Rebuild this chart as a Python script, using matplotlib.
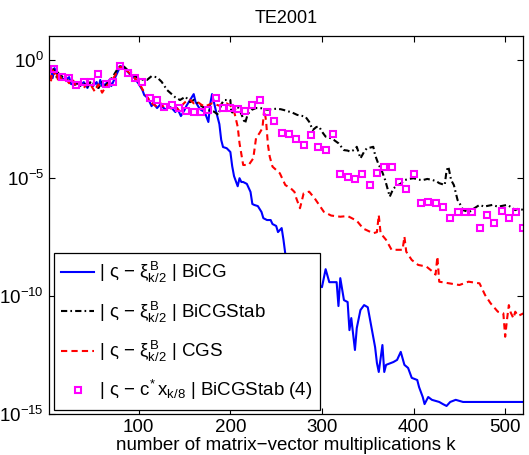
import matplotlib
matplotlib.use("Agg")
import matplotlib.pyplot as plt
import numpy as np
from matplotlib.ticker import NullLocator

# exponents (log10 of the error)
blue_k = [2, 4, 6, 8, 10, 12, 14, 16, 20, 24, 26, 30, 34, 36, 40, 44, 46, 50, 54, 56,
          58, 60, 64, 68, 70, 74, 78, 80, 84, 88, 90, 94, 96, 100, 104, 106, 110, 114,
          116, 120, 124, 126, 130, 132, 136, 140, 142, 146, 150, 152, 156, 160, 162,
          166, 168, 172, 176, 178, 180, 184, 188, 190, 192, 196, 198, 200, 202, 204,
          208, 210, 212, 214, 218, 222, 224, 226, 230, 234, 236, 240, 244, 246, 250,
          252, 256, 258, 260, 270, 282, 292, 300, 304, 308, 316, 318, 320, 324, 328,
          330, 332, 336, 338, 342, 346, 350, 354, 358, 360, 362, 366, 368, 370, 378,
          382, 386, 390, 394, 398, 404, 406, 410, 412, 416, 420, 428, 432, 436, 440,
          446, 454, 462, 484, 520]
blue_e = [-0.44, -0.27, -0.78, -0.36, -0.52, -0.69, -0.61, -0.78, -0.86, -0.74, -1.03,
          -1.07, -0.99, -1.12, -0.95, -1.20, -1.03, -1.12, -0.95, -1.20, -0.86, -1.12,
          -1.03, -0.86, -1.12, -0.78, -0.44, -0.27, -0.36, -0.52, -0.61, -0.69, -0.82,
          -1.03, -1.29, -1.50, -1.63, -1.97, -1.84, -2.05, -1.88, -2.01, -2.13, -1.96,
          -2.05, -2.22, -2.05, -2.39, -2.13, -1.96, -1.71, -1.46, -1.79, -2.05, -2.13,
          -2.22, -2.64, -1.88, -1.46, -2.13, -2.73, -3.40, -3.70, -3.75, -3.83, -3.91,
          -4.51, -4.93, -5.36, -5.02, -5.18, -5.18, -5.26, -5.60, -6.11, -6.15, -6.20,
          -6.45, -6.71, -6.79, -6.79, -6.96, -7.04, -7.30, -7.13, -7.63, -8.23, -8.57,
          -8.99, -9.42, -9.63, -8.87, -9.42, -9.42, -10.43, -9.25, -10.18, -10.26,
          -11.45, -10.94, -12.29, -11.36, -10.60, -10.39, -10.48, -11.32, -12.17,
          -12.84, -13.22, -12.08, -13.22, -12.92, -12.80, -12.71, -12.37, -12.92,
          -13.05, -13.47, -13.56, -13.86, -14.28, -14.58, -14.28, -14.40, -14.49,
          -14.58, -14.66, -14.49, -14.40, -14.49, -14.49, -14.49, -14.49]

black_k = [2, 4, 6, 8, 10, 12, 14, 16, 20, 24, 28, 32, 36, 40, 44, 48, 52, 56, 60, 64,
           68, 72, 76, 80, 84, 88, 92, 96, 100, 104, 109, 114, 120, 125, 131, 135, 140,
           145, 151, 156, 160, 166, 170, 175, 182, 187, 190, 193, 200, 201, 205, 208,
           212, 216, 219, 223, 228, 234, 240, 245, 250, 255, 260, 264, 268, 273, 278,
           282, 286, 290, 294, 297, 300, 304, 308, 313, 318, 324, 328, 331, 336, 338,
           342, 346, 349, 353, 356, 358, 362, 365, 369, 374, 378, 383, 386, 390, 395,
           400, 405, 410, 415, 421, 425, 428, 432, 434, 436, 438, 440, 441, 444, 448,
           452, 454, 458, 461, 466, 472, 477, 482, 486, 490, 493, 498, 502, 507, 511,
           515, 520]
black_e = [-0.3, -0.6, -0.35, -0.5, -0.75, -0.55, -0.8, -0.7, -0.85, -0.9, -1.05, -0.95,
           -1.1, -1.0, -1.15, -0.9, -1.05, -1.2, -0.95, -1.1, -0.9, -0.7, -0.45, -0.25,
           -0.3, -0.45, -0.55, -0.7, -0.8, -0.85, -0.86, -0.7, -0.75, -0.94, -1.29,
           -1.43, -1.6, -1.71, -1.57, -1.8, -1.71, -1.9, -2.0, -2.13, -2.2, -2.34, -1.9,
           -1.71, -1.71, -2.27, -2.1, -1.99, -2.3, -2.7, -2.3, -2.13, -2.05, -2.06,
           -2.12, -2.1, -2.08, -2.1, -2.15, -2.2, -2.25, -2.34, -2.38, -2.42, -2.63,
           -2.98, -2.85, -2.84, -3.05, -3.26, -3.3, -3.4, -3.54, -3.83, -3.85, -3.9,
           -3.8, -3.69, -4.18, -3.9, -3.75, -3.72, -3.69, -4.04, -4.46, -4.67, -5.1,
           -5.8, -5.45, -5.31, -5.25, -5.1, -5.05, -5.02, -5.08, -5.1, -5.05, -5.1,
           -5.15, -5.23, -5.28, -5.31, -4.7, -4.53, -4.9, -5.1, -5.31, -5.94, -6.2,
           -6.37, -6.42, -6.44, -6.3, -6.15, -6.22, -6.18, -6.15, -6.2, -6.22, -6.18,
           -6.15, -6.25, -6.37, -6.3, -6.37]

red_k = [2, 4, 6, 8, 10, 12, 14, 16, 20, 24, 28, 32, 36, 40, 44, 48, 52, 56, 60, 64,
         68, 72, 76, 80, 84, 88, 92, 96, 100, 104, 108, 112, 116, 120, 124, 128, 132,
         136, 140, 144, 148, 152, 156, 160, 164, 168, 172, 176, 180, 184, 188, 192,
         196, 200, 203, 205, 208, 210, 214, 220, 225, 228, 232, 235, 237, 239, 241,
         243, 246, 254, 260, 266, 270, 272, 276, 280, 286, 292, 302, 310, 320, 328,
         338, 345, 356, 360, 362, 364, 370, 376, 388, 390, 392, 398, 405, 414, 421,
         424, 426, 428, 439, 450, 460, 472, 478, 484, 492, 498, 500, 502, 504, 506,
         509, 511, 514, 520]
red_e = [-0.55, -0.95, -0.45, -0.6, -0.5, -0.9, -0.7, -0.85, -0.8, -1.0, -0.85, -1.15,
         -0.95, -1.2, -1.0, -1.1, -1.35, -1.05, -1.4, -1.15, -1.0, -0.8, -0.55, -0.3,
         -0.4, -0.5, -0.65, -0.8, -0.95, -1.25, -1.5, -1.75, -1.9, -2.0, -1.85, -2.05,
         -1.95, -2.1, -2.0, -2.15, -1.9, -1.75, -1.7, -1.85, -1.78, -1.9, -1.99, -1.92,
         -1.85, -1.9, -1.95, -1.88, -1.85, -1.95, -2.06, -2.34, -2.84, -3.54, -4.46,
         -4.46, -4.18, -3.33, -3.1, -2.9, -2.1, -2.6, -3.6, -4.11, -4.53, -4.81, -5.31,
         -5.45, -5.6, -5.87, -6.29, -5.66, -5.59, -5.87, -6.44, -6.6, -6.65, -6.62,
         -6.82, -7.15, -7.35, -7.3, -6.58, -7.35, -7.63, -8.05, -8.05, -7.49, -8.13,
         -8.48, -8.69, -8.76, -8.98, -9.1, -8.34, -9.4, -9.47, -9.54, -9.40, -9.47,
         -9.96, -10.31, -10.67, -10.74, -11.73, -11.0, -10.39, -10.7, -10.95, -10.67,
         -10.85, -10.74]

# BiCGStab(4) markers, one every 8 matrix-vector products
sq_k = np.arange(8, 521, 8)
sq_e = [-0.39, -0.72, -0.76, -1.07, -0.95, -0.95, -0.61, -1.03, -0.96, -0.27, -0.58,
        -0.79, -0.93, -1.63, -1.72, -1.99, -1.90, -2.03, -2.19, -2.20, -2.20, -2.13,
        -1.61, -2.04, -2.04, -2.09, -2.16, -1.92, -1.71, -2.23, -2.61, -3.09, -3.15,
        -3.37, -3.63, -3.19, -3.69, -3.83, -3.15, -4.85, -4.98, -5.07, -4.85, -5.31,
        -4.81, -4.53, -4.53, -5.17, -5.48, -4.85, -6.08, -6.04, -6.08, -6.23, -6.70,
        -6.44, -6.46, -6.46, -7.11, -6.58, -6.93, -6.39, -6.72, -6.46, -7.11]

labels = [
    r"| ς − $\xi^{\mathrm{B}}_{\mathrm{k/2}}$ | BiCG",
    r"| ς − $\xi^{\mathrm{B}}_{\mathrm{k/2}}$ | BiCGStab",
    r"| ς − $\xi^{\mathrm{B}}_{\mathrm{k/2}}$ | CGS",
    r"| ς − $\mathrm{c}^{*}\,\mathrm{x}_{\mathrm{k/8}}$ | BiCGStab (4)",
]

plt.rcParams["font.family"] = ["Liberation Sans", "DejaVu Sans"]
plt.rcParams["mathtext.fontset"] = "custom"
plt.rcParams["mathtext.rm"] = "Liberation Sans"
plt.rcParams["mathtext.it"] = "Liberation Sans"
plt.rcParams["mathtext.bf"] = "Liberation Sans:bold"
plt.rcParams["mathtext.sf"] = "Liberation Sans"
plt.rcParams["font.size"] = 13.5

fig = plt.figure(figsize=(5.29, 4.55), dpi=100)
ax = fig.add_axes([0.0926, 0.0901, 0.897, 0.8308])

ax.semilogy(blue_k, 10.0 ** np.array(blue_e), color=(0, 0, 1), lw=1.5,
            label=labels[0])
ax.semilogy(black_k, 10.0 ** np.array(black_e), color="k", lw=1.5,
            ls=(0, (3, 1.5, 0.8, 1.5)), label=labels[1])
ax.semilogy(red_k, 10.0 ** np.array(red_e), color=(1, 0, 0), lw=1.5,
            ls=(0, (3, 2)), label=labels[2])
ax.semilogy(sq_k, 10.0 ** np.array(sq_e), ls="none", marker="s", ms=4.7,
            mfc="none", mec=(1, 0, 1), mew=1.5, label=labels[3])

ax.set_xlim(2, 520)
ax.set_ylim(1e-15, 1e1)
ax.set_xticks([100, 200, 300, 400, 500])
ax.set_yticks([1e0, 1e-5, 1e-10, 1e-15])
ax.yaxis.set_minor_locator(NullLocator())
ax.tick_params(direction="in", top=True, right=True, length=4, width=0.8)
for s in ax.spines.values():
    s.set_linewidth(0.9)

ax.set_title("TE2001", fontsize=13, pad=9.5)
ax.set_xlabel("number of matrix−vector multiplications k", labelpad=1)

leg = ax.legend(loc="lower left", bbox_to_anchor=(0.0105, 0.0106), borderaxespad=0,
                handlelength=1.75, handletextpad=0.25, labelspacing=0.76,
                borderpad=0.4, fancybox=False, edgecolor="k", framealpha=1,
                numpoints=1)
leg.get_frame().set_linewidth(0.9)

fig.savefig("out.png", dpi=100)
